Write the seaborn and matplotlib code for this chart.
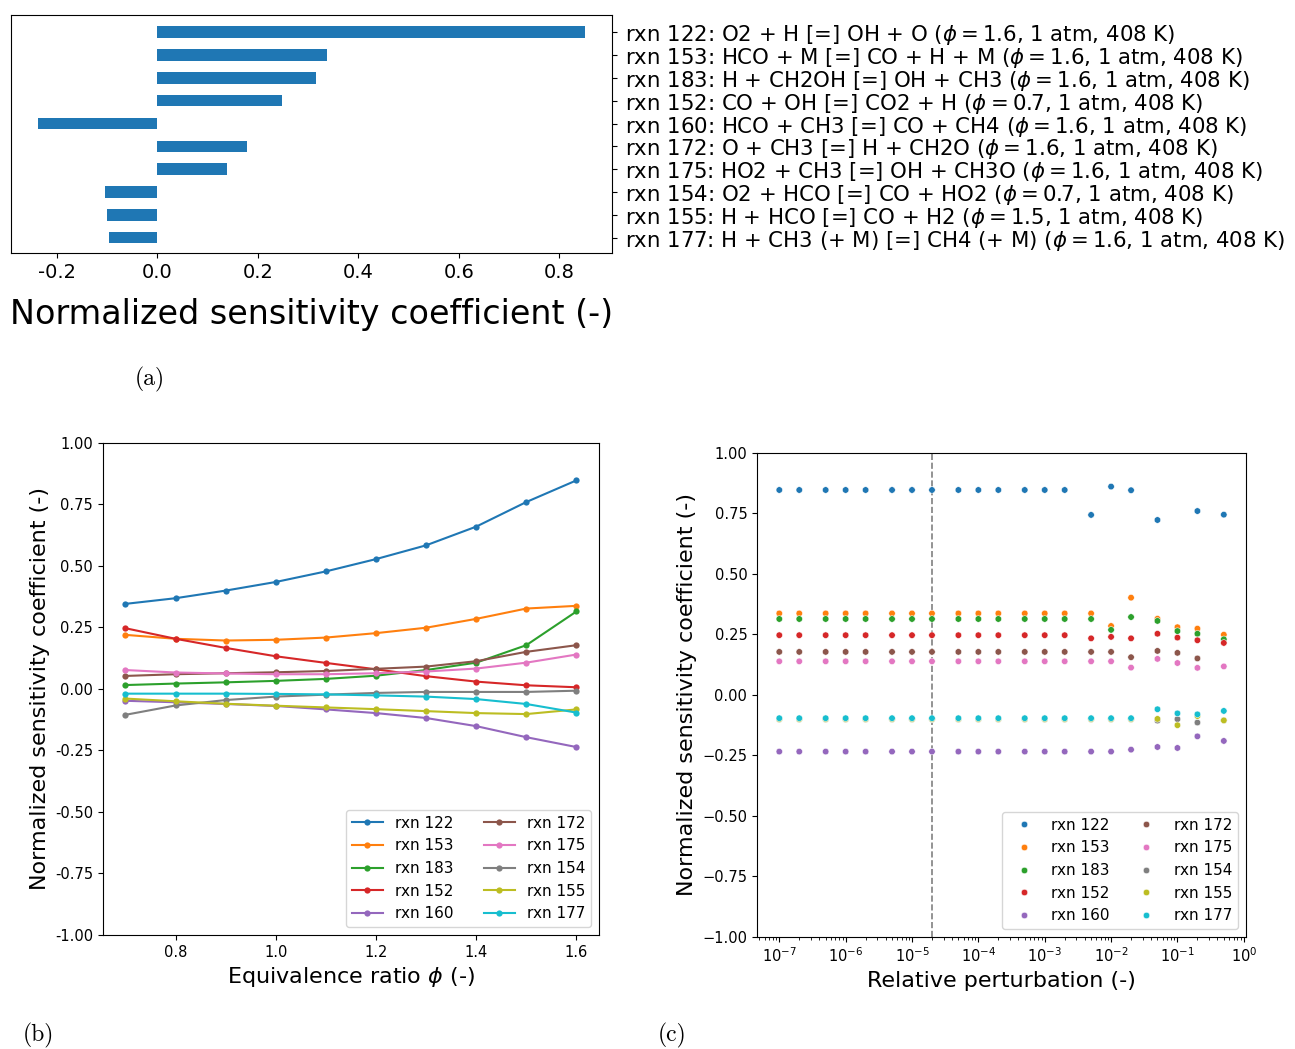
import numpy as np
import pandas as pd
import matplotlib
matplotlib.use("Agg")
import matplotlib.pyplot as plt
import seaborn as sns

# ---------------- data ----------------
rxn_ids = ["rxn 122", "rxn 153", "rxn 183", "rxn 152", "rxn 160",
           "rxn 172", "rxn 175", "rxn 154", "rxn 155", "rxn 177"]

bar_labels = [
    r"rxn 122: O2 + H [=] OH + O ($\phi = 1.6$, 1 atm, 408 K)",
    r"rxn 153: HCO + M [=] CO + H + M ($\phi = 1.6$, 1 atm, 408 K)",
    r"rxn 183: H + CH2OH [=] OH + CH3 ($\phi = 1.6$, 1 atm, 408 K)",
    r"rxn 152: CO + OH [=] CO2 + H ($\phi = 0.7$, 1 atm, 408 K)",
    r"rxn 160: HCO + CH3 [=] CO + CH4 ($\phi = 1.6$, 1 atm, 408 K)",
    r"rxn 172: O + CH3 [=] H + CH2O ($\phi = 1.6$, 1 atm, 408 K)",
    r"rxn 175: HO2 + CH3 [=] OH + CH3O ($\phi = 1.6$, 1 atm, 408 K)",
    r"rxn 154: O2 + HCO [=] CO + HO2 ($\phi = 0.7$, 1 atm, 408 K)",
    r"rxn 155: H + HCO [=] CO + H2 ($\phi = 1.5$, 1 atm, 408 K)",
    r"rxn 177: H + CH3 (+ M) [=] CH4 (+ M) ($\phi = 1.6$, 1 atm, 408 K)",
]
bar_values = [0.850, 0.338, 0.315, 0.247, -0.237, 0.179, 0.139, -0.105, -0.101, -0.097]

phi = [0.7, 0.8, 0.9, 1.0, 1.1, 1.2, 1.3, 1.4, 1.5, 1.6]
s_phi_122 = [0.346, 0.369, 0.400, 0.435, 0.478, 0.528, 0.584, 0.660, 0.760, 0.848]
s_phi_153 = [0.220, 0.204, 0.197, 0.200, 0.209, 0.227, 0.249, 0.285, 0.327, 0.338]
s_phi_183 = [0.016, 0.022, 0.027, 0.033, 0.041, 0.054, 0.077, 0.107, 0.178, 0.315]
s_phi_152 = [0.247, 0.204, 0.167, 0.133, 0.106, 0.080, 0.052, 0.030, 0.015, 0.007]
s_phi_160 = [-0.048, -0.054, -0.061, -0.069, -0.083, -0.098, -0.118, -0.151, -0.196, -0.236]
s_phi_172 = [0.053, 0.060, 0.064, 0.068, 0.073, 0.082, 0.091, 0.113, 0.151, 0.178]
s_phi_175 = [0.077, 0.067, 0.063, 0.060, 0.060, 0.064, 0.071, 0.083, 0.107, 0.140]
s_phi_154 = [-0.105, -0.067, -0.045, -0.031, -0.023, -0.016, -0.012, -0.012, -0.012, -0.007]
s_phi_155 = [-0.039, -0.050, -0.060, -0.068, -0.075, -0.082, -0.090, -0.098, -0.102, -0.083]
s_phi_177 = [-0.019, -0.019, -0.019, -0.020, -0.022, -0.026, -0.031, -0.041, -0.061, -0.096]

pert = [1e-7, 2e-7, 5e-7, 1e-6, 2e-6, 5e-6, 1e-5, 2e-5, 5e-5, 1e-4, 2e-4,
        5e-4, 1e-3, 2e-3, 5e-3, 1e-2, 2e-2, 5e-2, 1e-1, 2e-1, 5e-1]
nan = np.nan
s_p_122 = [0.847] * 14 + [0.744, 0.861, 0.846, 0.723, nan, 0.760, 0.745]
s_p_153 = [0.337] * 14 + [0.337, 0.285, 0.402, 0.315, 0.280, 0.274, 0.249]
s_p_183 = [0.314] * 14 + [0.314, 0.269, 0.322, 0.306, 0.264, 0.253, 0.230]
s_p_152 = [0.247] * 14 + [0.234, 0.240, 0.234, 0.253, 0.237, 0.226, 0.215]
s_p_160 = [-0.234] * 14 + [-0.234, -0.234, -0.226, -0.215, -0.219, -0.171, -0.190]
s_p_172 = [0.178] * 14 + [0.178, 0.178, 0.156, 0.182, 0.174, 0.151, nan]
s_p_175 = [0.139] * 14 + [0.139, 0.139, 0.113, 0.149, 0.132, 0.112, 0.118]
s_p_154 = [-0.101] * 14 + [-0.101, -0.101, -0.101, -0.106, -0.100, -0.114, -0.105]
s_p_155 = [-0.100] * 14 + [-0.100, -0.100, -0.100, -0.099, -0.125, -0.087, -0.105]
s_p_177 = [-0.096] * 14 + [-0.096, -0.096, -0.096, -0.059, -0.076, -0.080, -0.066]

phi_series = [s_phi_122, s_phi_153, s_phi_183, s_phi_152, s_phi_160,
              s_phi_172, s_phi_175, s_phi_154, s_phi_155, s_phi_177]
pert_series = [s_p_122, s_p_153, s_p_183, s_p_152, s_p_160,
               s_p_172, s_p_175, s_p_154, s_p_155, s_p_177]

# ---------------- tables ----------------
df_bar = pd.DataFrame({"label": bar_labels, "value": bar_values})
df_phi = pd.DataFrame([(r, p, v) for r, s in zip(rxn_ids, phi_series)
                       for p, v in zip(phi, s)], columns=["rxn", "phi", "S"])
df_pert = pd.DataFrame([(r, p, v) for r, s in zip(rxn_ids, pert_series)
                        for p, v in zip(pert, s)], columns=["rxn", "pert", "S"]).dropna()

palette = sns.color_palette("tab10", 10)

fig = plt.figure(figsize=(12.95, 10.49), dpi=100)

# ---------------- panel (a) ----------------
ax_a = fig.add_axes([0.0085, 0.7588, 0.464, 0.2269])
sns.barplot(data=df_bar, x="value", y="label", orient="h", color="#1f77b4",
            width=0.5, saturation=1, ax=ax_a)
ax_a.margins(x=0.05)
ax_a.set_ylim(len(bar_labels) - 0.33, -0.75)
ax_a.yaxis.tick_right()
ax_a.set_ylabel("")
ax_a.set_xlabel("Normalized sensitivity coefficient (-)", fontsize=24, labelpad=12)
ax_a.tick_params(axis="y", labelsize=15.3, pad=6)
ax_a.tick_params(axis="x", labelsize=14)
ax_a.set_xticks([-0.2, 0.0, 0.2, 0.4, 0.6, 0.8])
ax_a.xaxis.set_major_formatter(matplotlib.ticker.FormatStrFormatter("%.1f"))

# ---------------- panel (b) ----------------
ax_b = fig.add_axes([0.0795, 0.1087, 0.383, 0.469])
sns.lineplot(data=df_phi, x="phi", y="S", hue="rxn", hue_order=rxn_ids,
             palette=palette, marker="o", markersize=4.5, markeredgewidth=0,
             linewidth=1.5, ax=ax_b)
ax_b.set_ylim(-1.0, 1.0)
ax_b.set_yticks(np.arange(-1.0, 1.01, 0.25))
ax_b.yaxis.set_major_formatter(matplotlib.ticker.FormatStrFormatter("%.2f"))
ax_b.set_xticks([0.8, 1.0, 1.2, 1.4, 1.6])
ax_b.set_xlabel(r"Equivalence ratio $\phi$ (-)", fontsize=16)
ax_b.set_ylabel("Normalized sensitivity coefficient (-)", fontsize=16)
ax_b.tick_params(labelsize=10.5)
ax_b.legend(ncol=2, loc="lower right", fontsize=11, columnspacing=2.0)

# ---------------- panel (c) ----------------
ax_c = fig.add_axes([0.5846, 0.1068, 0.3776, 0.4614])
sns.scatterplot(data=df_pert, x="pert", y="S", hue="rxn", hue_order=rxn_ids,
                palette=palette, s=22, ax=ax_c)
ax_c.set_xscale("log")
ax_c.axvline(2e-5, color="gray", linestyle="--", linewidth=1.2, zorder=0)
ax_c.set_ylim(-1.0, 1.0)
ax_c.set_yticks(np.arange(-1.0, 1.01, 0.25))
ax_c.set_xticks([1e-7, 1e-6, 1e-5, 1e-4, 1e-3, 1e-2, 1e-1, 1e0])
ax_c.set_xlabel("Relative perturbation (-)", fontsize=16)
ax_c.set_ylabel("Normalized sensitivity coefficient (-)", fontsize=16)
ax_c.tick_params(labelsize=10.5)
ax_c.legend(ncol=2, loc="lower right", fontsize=11, columnspacing=1.4)

# ---------------- panel labels ----------------
for txt, x, y in [("(a)", 0.1158, 0.6378), ("(b)", 0.0293, 0.0133), ("(c)", 0.519, 0.0133)]:
    fig.text(x, y, txt, fontsize=17, family="cmr10", ha="center", va="center")

fig.savefig("out.png", dpi=100)
